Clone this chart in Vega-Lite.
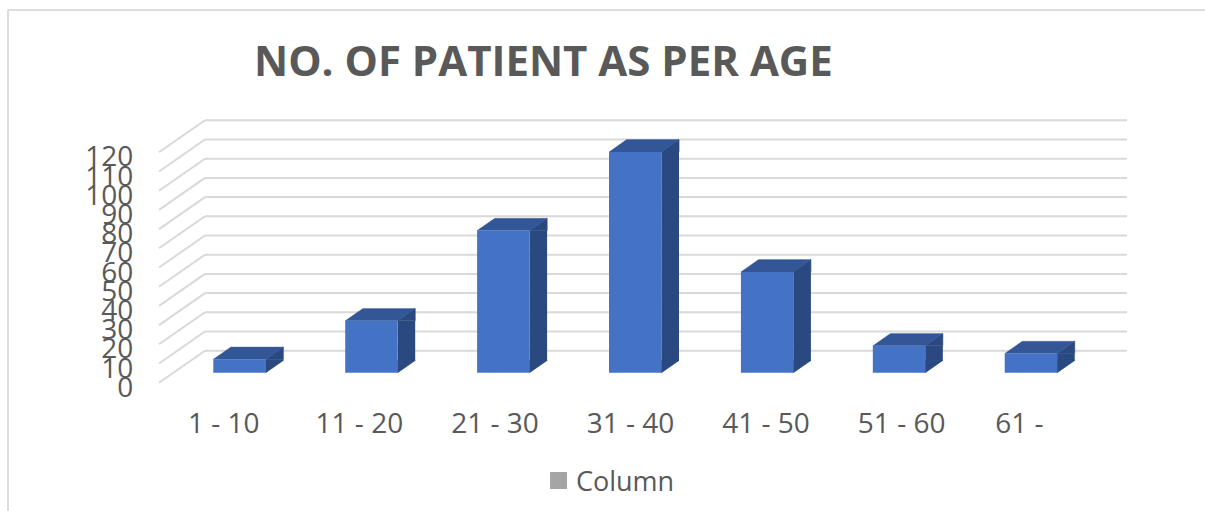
{"$schema":"https://vega.github.io/schema/vega-lite/v6.json","width":1197,"height":501,"autosize":{"type":"none"},"padding":{"left":8,"top":10,"right":0,"bottom":0},"background":"white","title":{"text":"NO. OF PATIENT AS PER AGE","anchor":"start","frame":"group","dx":246,"dy":43,"offset":-66,"baseline":"alphabetic","font":"Open Sans","fontSize":42,"fontWeight":"bold","color":"#595959"},"config":{"view":{"stroke":null},"font":"Open Sans"},"data":{"values":[{"age":"1 - 10","patients":7,"series":"Column"},{"age":"11 - 20","patients":27,"series":"Column"},{"age":"21 - 30","patients":74,"series":"Column"},{"age":"31 - 40","patients":115,"series":"Column"},{"age":"41 - 50","patients":52.5,"series":"Column"},{"age":"51 - 60","patients":14,"series":"Column"},{"age":"61 -","patients":10,"series":"Column"}]},"layer":[{"data":{"values":[{"tick":0},{"tick":10},{"tick":20},{"tick":30},{"tick":40},{"tick":50},{"tick":60},{"tick":70},{"tick":80},{"tick":90},{"tick":100},{"tick":110},{"tick":120}]},"layer":[{"mark":{"type":"rule","stroke":"#d9d9d9","strokeWidth":2,"yOffset":10,"y2Offset":-22},"encoding":{"x":{"datum":0,"type":"quantitative","axis":null,"scale":{"domain":[0,968],"range":[151,1119],"nice":false,"zero":false}},"x2":{"datum":46},"y":{"field":"tick","type":"quantitative","scale":{"domain":[0,120],"range":[362.7,132.3],"nice":false},"axis":{"title":null,"values":[0,10,20,30,40,50,60,70,80,90,100,110,120],"domain":false,"ticks":false,"grid":false,"orient":"left","offset":-124.7,"labelPadding":0,"labelFontSize":28,"labelFont":"Open Sans","labelColor":"#595959","labelOverlap":false,"labelBound":false,"labelOffset":15.5,"labelFlush":false}},"y2":{"field":"tick"}}},{"mark":{"type":"rule","stroke":"#d9d9d9","strokeWidth":2,"yOffset":-22,"y2Offset":-22},"encoding":{"x":{"datum":46,"type":"quantitative"},"x2":{"datum":968},"y":{"field":"tick","type":"quantitative"},"y2":{"field":"tick"}}},{"mark":{"type":"rule","stroke":"#dcdcdc","strokeWidth":2},"encoding":{"x":{"datum":-151,"type":"quantitative"}}},{"mark":{"type":"rule","stroke":"#dcdcdc","strokeWidth":2},"encoding":{"y":{"datum":188.9,"type":"quantitative"}}}]},{"layer":[{"mark":{"type":"bar","fill":"#2a4980","size":17.6,"xOffset":35,"y2Offset":-11.8},"encoding":{"x":{"field":"age","type":"nominal","sort":null,"axis":null,"scale":{"type":"band","range":[205.3,1049.1],"paddingInner":0.603,"paddingOuter":0}},"y":{"field":"patients","type":"quantitative"},"y2":{"datum":0}}},{"mark":{"type":"point","shape":"M26.2,0L43.8,-12.3L26.2,-12.3Z","size":4,"filled":true,"fill":"#2a4980","stroke":"#2a4980","strokeWidth":0.7,"opacity":1},"encoding":{"x":{"field":"age","type":"nominal","sort":null},"y":{"datum":0,"type":"quantitative"}}},{"mark":{"type":"point","shape":"M26.2,0L43.8,-12.3L43.8,0Z","size":4,"filled":true,"fill":"#2a4980","stroke":"#2a4980","strokeWidth":0.7,"opacity":1},"encoding":{"x":{"field":"age","type":"nominal","sort":null},"y":{"field":"patients","type":"quantitative"}}},{"mark":{"type":"point","shape":"M-26.2,0L26.2,0L43.8,-12.3L-8.6,-12.3Z","size":4,"filled":true,"fill":"#335696","stroke":"#335696","strokeWidth":0.3,"opacity":1},"encoding":{"x":{"field":"age","type":"nominal","sort":null},"y":{"field":"patients","type":"quantitative"}}},{"mark":{"type":"bar","fill":"#4472c4"},"encoding":{"x":{"field":"age","type":"nominal","sort":null},"y":{"field":"patients","type":"quantitative"},"y2":{"datum":0}}}]},{"mark":{"type":"bar"},"encoding":{"x":{"field":"age","type":"nominal","sort":null,"scale":{"type":"band","range":[148,1097],"paddingInner":0,"paddingOuter":0},"axis":{"title":null,"orient":"bottom","offset":-101,"domain":false,"ticks":false,"labelAngle":0,"labelPadding":0,"labelFont":"Open Sans","labelFontSize":28,"labelColor":"#595959","labelOverlap":false,"labelBound":false,"labelFlush":false,"encoding":{"labels":{"align":{"condition":{"test":"datum.label == '61 -'","value":"left"},"value":"center"},"dx":{"condition":{"test":"datum.label == '61 -'","value":-42},"value":0}}}}},"y":{"datum":0,"type":"quantitative"},"y2":{"datum":0},"color":{"field":"series","type":"nominal","scale":{"range":["#a5a5a5"]},"legend":{"orient":"none","legendX":537,"legendY":457,"title":null,"symbolType":"square","symbolSize":289,"symbolStrokeWidth":0,"labelFont":"Open Sans","labelFontSize":27,"labelColor":"#595959","labelOffset":4,"encoding":{"labels":{"dy":{"value":2}}}}}}}],"resolve":{"scale":{"x":"independent"}}}
